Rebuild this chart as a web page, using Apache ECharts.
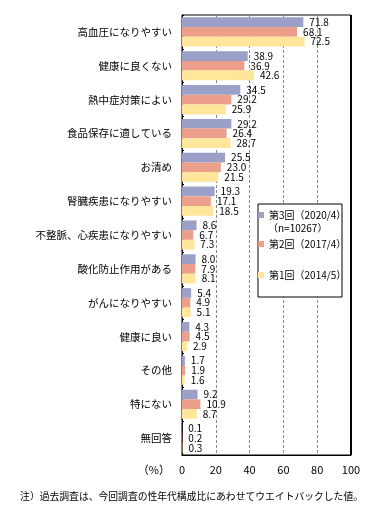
<!DOCTYPE html>
<html><head><meta charset="utf-8">
<script src="https://cdn.jsdelivr.net/npm/echarts@6/dist/echarts.min.js"></script>
<style>html,body{margin:0;padding:0;background:#fff}#c{width:371px;height:518px}</style>
</head><body><div id="c"></div>
<script>
const categories = ['高血圧になりやすい','健康に良くない','熱中症対策によい','食品保存に適している','お清め','腎臓疾患になりやすい','不整脈、心疾患になりやすい','酸化防止作用がある','がんになりやすい','健康に良い','その他','特にない','無回答'];
const seriesNames = ['第3回（2020/4）','第2回（2017/4）','第1回（2014/5）'];
const round3 = [71.8,38.9,34.5,29.2,25.5,19.3,8.6,8.0,5.4,4.3,1.7,9.2,0.1];
const round2 = [68.1,36.9,29.2,26.4,23.0,17.1,6.7,7.9,4.9,4.5,1.9,10.9,0.2];
const round1 = [72.5,42.6,25.9,28.7,21.5,18.5,7.3,8.1,5.1,2.9,1.6,8.7,0.3];
const xTicks = [0,20,40,60,80,100];
const sampleNote = '（n=10267）';
const footNote = '注）過去調査は、今回調査の性年代構成比にあわせてウエイトバックした値。';
const colors = ['#9aa0c8','#eca08c','#ffe69a'];
const FONT = '"Noto Sans CJK JP", sans-serif';

const chart = echarts.init(document.getElementById('c'), null, {renderer:'canvas'});
const mk = (name, data, i) => ({
  name, type:'bar', data, barGap:'0%', barCategoryGap:'14%',
  itemStyle:{color:colors[i]},
  label:{show:true, position:'right', distance:6, color:'#000', fontSize:10, fontFamily:FONT,
    formatter:p=>p.value.toFixed(1)}
});
const legendBase = {orient:'vertical', itemWidth:6, itemHeight:6, icon:'rect', z:20,
  textStyle:{fontSize:10, fontFamily:FONT, color:'#000'}, padding:0};
chart.setOption({
  animation:false,
  textStyle:{fontFamily:FONT},
  grid:{left:182, right:20, top:15, bottom:63, show:true, borderColor:'#000', borderWidth:1, backgroundColor:'transparent'},
  xAxis:{type:'value', min:0, max:100, interval:20,
    axisLine:{show:true, lineStyle:{color:'#000'}}, axisTick:{show:false},
    axisLabel:{color:'#000', fontSize:11, margin:9, fontFamily:FONT},
    splitLine:{show:true, lineStyle:{color:'#888', type:[3,2]}}},
  yAxis:{type:'category', data:categories, inverse:true,
    axisLine:{show:true, lineStyle:{color:'#000'}},
    axisTick:{show:true, inside:true, length:2, lineStyle:{color:'#000'}},
    axisLabel:{color:'#000', fontSize:10.5, margin:10, fontFamily:FONT}},
  legend:[
    Object.assign({left:258, top:210, data:[seriesNames[0]]}, legendBase),
    Object.assign({left:258, top:239, data:[seriesNames[1]]}, legendBase),
    Object.assign({left:258, top:270, data:[seriesNames[2]]}, legendBase)
  ],
  series:[mk(seriesNames[0], round3, 0), mk(seriesNames[1], round2, 1), mk(seriesNames[2], round1, 2)],
  graphic:[
    {type:'rect', shape:{x:258, y:204, width:84, height:93}, style:{fill:'#fff', stroke:'#000', lineWidth:1}, z:10},
    {type:'line', shape:{x1:351, y1:15, x2:351, y2:455}, style:{stroke:'#000', lineWidth:2}, z:20},
    {type:'text', x:268, y:223, z:20, style:{text:sampleNote, fontSize:10, fontFamily:FONT, fill:'#000'}},
    {type:'text', x:170, y:470, z:20, style:{text:'（%）', fontSize:11, fontFamily:FONT, fill:'#000', align:'right', verticalAlign:'middle'}},
    {type:'text', x:363, y:496, z:20, style:{text:footNote, fontSize:9.8, fontFamily:FONT, fill:'#000', align:'right', verticalAlign:'middle'}}
  ]
});
</script></body></html>
